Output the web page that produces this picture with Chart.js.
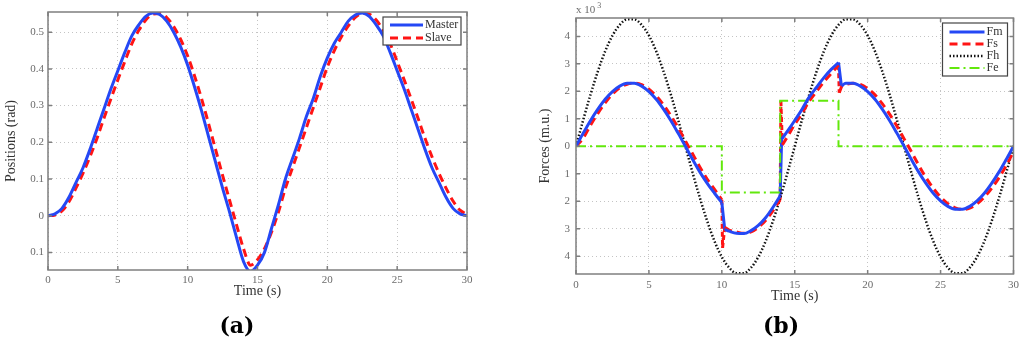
<!DOCTYPE html>
<html>
<head>
<meta charset="utf-8">
<script src="https://cdn.jsdelivr.net/npm/chart.js@4/dist/chart.umd.min.js"></script>
<style>
  body { margin: 0; background: #fff; }
  #page { position: relative; width: 1024px; height: 347px; overflow: hidden; }
  canvas { position: absolute; top: 0; }
  .sub { position: absolute; top: 312px; font: bold 22px "DejaVu Serif", serif; color: #000; width: 60px; text-align: center; }
</style>
</head>
<body>
<div id="page">
  <canvas id="posChart" width="512" height="347" style="left:0"></canvas>
  <canvas id="forceChart" width="512" height="347" style="left:512px"></canvas>
  <div class="sub" style="left:207px">(a)</div>
  <div class="sub" style="left:751px">(b)</div>
</div>
<script>
// sample times (s) for the smooth curves
const timeGrid = [0, 0.5, 1, 1.5, 2, 2.5, 3, 3.5, 4, 4.5, 5, 5.5, 6, 6.5, 7, 7.5, 8, 8.5, 9, 9.5,
  10, 10.5, 11, 11.5, 12, 12.5, 13, 13.5, 14, 14.5, 15, 15.5, 16, 16.5, 17, 17.5, 18, 18.5, 19, 19.5,
  20, 20.5, 21, 21.5, 22, 22.5, 23, 23.5, 24, 24.5, 25, 25.5, 26, 26.5, 27, 27.5, 28, 28.5, 29, 29.5, 30];

// (a) positions, rad
const masterPos = [0, 0.005, 0.02, 0.05, 0.09, 0.13, 0.18, 0.235, 0.29, 0.345, 0.395, 0.445, 0.49, 0.52, 0.543, 0.552,
  0.548, 0.53, 0.5, 0.46, 0.41, 0.35, 0.285, 0.215, 0.145, 0.075, 0.01, -0.06, -0.125, -0.152,
  -0.135, -0.1, -0.035, 0.03, 0.1, 0.155, 0.21, 0.27, 0.32, 0.38, 0.43, 0.47, 0.5, 0.53, 0.547, 0.552,
  0.543, 0.52, 0.49, 0.445, 0.395, 0.345, 0.29, 0.235, 0.18, 0.13, 0.09, 0.05, 0.02, 0.005, 0];
const slavePos = [0, 0.002, 0.013, 0.038, 0.075, 0.115, 0.16, 0.21, 0.265, 0.318, 0.37, 0.42, 0.468, 0.505, 0.533, 0.549,
  0.551, 0.54, 0.515, 0.48, 0.435, 0.38, 0.318, 0.25, 0.18, 0.11, 0.042, -0.025, -0.09, -0.135,
  -0.12, -0.09, -0.045, 0.01, 0.075, 0.13, 0.185, 0.24, 0.295, 0.35, 0.405, 0.45, 0.487, 0.517, 0.54, 0.551,
  0.549, 0.533, 0.505, 0.468, 0.42, 0.37, 0.318, 0.265, 0.21, 0.16, 0.115, 0.075, 0.04, 0.015, 0.003];

// (b) forces, x 10^3 m.u.
const fhForce = [0, 0.97, 1.89, 2.73, 3.46, 4.03, 4.42, 4.62, 4.62, 4.42, 4.03, 3.46, 2.73, 1.89, 0.97, 0,
  -0.97, -1.89, -2.73, -3.46, -4.03, -4.42, -4.62, -4.62, -4.42, -4.03, -3.46, -2.73, -1.89, -0.97, 0,
  0.97, 1.89, 2.73, 3.46, 4.03, 4.42, 4.62, 4.62, 4.42, 4.03, 3.46, 2.73, 1.89, 0.97, 0,
  -0.97, -1.89, -2.73, -3.46, -4.03, -4.42, -4.62, -4.62, -4.42, -4.03, -3.46, -2.73, -1.89, -0.97, 0];

const fmTime = [0, 0.5, 1, 1.5, 2, 2.5, 3, 3.5, 4, 4.5, 5, 5.5, 6, 6.5, 7, 7.5, 8, 8.5, 9, 9.5, 10,
  10.2, 10.5, 11, 11.5, 12, 12.5, 13, 13.5, 14,
  14.1, 14.5, 15, 15.5, 16, 16.5, 17, 17.5, 18,
  18.2, 18.5, 19, 19.5, 20, 20.5, 21, 21.5, 22, 22.5, 23, 23.5, 24, 24.5, 25, 25.5, 26, 26.5, 27, 27.5, 28, 28.5, 29, 29.5, 30];
const fmForce = [0, 0.48, 0.94, 1.35, 1.71, 1.99, 2.19, 2.29, 2.29, 2.19, 1.99, 1.71, 1.35, 0.94, 0.48, 0,
  -0.48, -0.94, -1.35, -1.71, -2.05,
  -3.03, -3.09, -3.17, -3.18, -3.07, -2.88, -2.6, -2.23, -1.8,
  0.25, 0.55, 0.94, 1.35, 1.8, 2.15, 2.5, 2.8, 3.05,
  2.2, 2.29, 2.29, 2.19, 1.99, 1.71, 1.35, 0.94, 0.48, 0, -0.48, -0.94, -1.35, -1.71, -1.99, -2.19, -2.29,
  -2.29, -2.19, -1.99, -1.71, -1.35, -0.94, -0.48, 0];
// times where Fm jumps straight to its next sample
const fmJumps = [10, 14, 18];

const fsTime = [0, 0.5, 1, 1.5, 2, 2.5, 3, 3.5, 4, 4.5, 5, 5.5, 6, 6.5, 7, 7.5, 8, 8.5, 9, 9.5, 10,
  10.05, 10.2, 10.5, 11, 11.5, 12, 12.5, 13, 13.5, 14,
  14.05, 14.15, 14.5, 15, 15.5, 16, 16.5, 17, 17.5, 18,
  18.05, 18.25, 18.5, 19, 19.5, 20, 20.5, 21, 21.5, 22, 22.5, 23, 23.5, 24, 24.5, 25, 25.5, 26, 26.5, 27, 27.5, 28, 28.5, 29, 29.5, 30];
const fsForce = [0, 0.3, 0.77, 1.2, 1.58, 1.9, 2.13, 2.26, 2.3, 2.24, 2.08, 1.83, 1.51, 1.12, 0.68, 0.2,
  -0.28, -0.76, -1.2, -1.57, -1.95,
  -3.7, -2.95, -3.05, -3.12, -3.17, -3.12, -2.95, -2.7, -2.35, -1.95,
  1.65, 0.05, 0.35, 0.8, 1.2, 1.65, 2.0, 2.35, 2.65, 2.95,
  1.95, 2.2, 2.25, 2.29, 2.25, 2.1, 1.87, 1.55, 1.17, 0.74, 0.27, -0.2, -0.69, -1.14, -1.53, -1.85, -2.09,
  -2.24, -2.3, -2.25, -2.1, -1.85, -1.53, -1.15, -0.7, -0.2];
const fsJumps = [10, 10.05, 14, 14.05, 18];

const feTime = [0, 10, 10, 14, 14, 18, 18, 30];
const feForce = [0, 0, -1.68, -1.68, 1.66, 1.66, 0, 0];

const timeTicks = [0, 5, 10, 15, 20, 25, 30];
const posTicks = [-0.1, 0, 0.1, 0.2, 0.3, 0.4, 0.5];
const forceTicks = [-4, -3, -2, -1, 0, 1, 2, 3, 4];

const pts = (xs, ys) => xs.map((t, i) => ({ x: t, y: ys[i] }));

// smooth pieces, broken (null) where the signal jumps
function smoothPart(xs, ys, jumps) {
  const out = [];
  xs.forEach((t, i) => {
    out.push({ x: t, y: ys[i] });
    if (jumps.includes(t) && i + 1 < xs.length) out.push({ x: (t + xs[i + 1]) / 2, y: null });
  });
  return out;
}
// the straight jump segments themselves
function jumpPart(xs, ys, jumps) {
  const out = [];
  xs.forEach((t, i) => {
    if (jumps.includes(t) && i + 1 < xs.length) {
      out.push({ x: t, y: ys[i] }, { x: xs[i + 1], y: ys[i + 1] }, { x: xs[i + 1], y: null });
    }
  });
  return out;
}

const serif = '"Liberation Serif", "Times New Roman", serif';
const tickFont = { family: serif, size: 11 };
const tickColor = '#6b6b6b';
const gridColor = '#c4c4c4';
const blue = '#2548f5';
const red = '#ff1414';

// grey box around the axes with small inward tick marks (matlab "box on")
const boxFrame = {
  id: 'boxFrame',
  afterDatasetsDraw(chart) {
    const { ctx, chartArea: a, scales: { x, y } } = chart;
    ctx.save();
    ctx.strokeStyle = '#7f7f7f';
    ctx.lineWidth = 1.5;
    ctx.strokeRect(a.left, a.top, a.width, a.height);
    ctx.beginPath();
    x.ticks.forEach(t => {
      const px = x.getPixelForValue(t.value);
      ctx.moveTo(px, a.bottom); ctx.lineTo(px, a.bottom - 4);
      ctx.moveTo(px, a.top); ctx.lineTo(px, a.top + 4);
    });
    y.ticks.forEach(t => {
      const py = y.getPixelForValue(t.value);
      ctx.moveTo(a.left, py); ctx.lineTo(a.left + 4, py);
      ctx.moveTo(a.right, py); ctx.lineTo(a.right - 4, py);
    });
    ctx.stroke();
    ctx.restore();
  }
};

// legend box with line samples, top right inside the axes
const lineLegend = {
  id: 'lineLegend',
  afterDraw(chart, args, o) {
    const { ctx, chartArea: a } = chart;
    const left = a.right - o.inset - o.width;
    const top = a.top + o.top;
    ctx.save();
    ctx.fillStyle = '#fff';
    ctx.fillRect(left, top, o.width, o.height);
    ctx.strokeStyle = '#444';
    ctx.lineWidth = 1.2;
    ctx.strokeRect(left, top, o.width, o.height);
    ctx.font = '12px ' + serif;
    ctx.textBaseline = 'middle';
    chart.data.datasets.filter(ds => ds.label).forEach((ds, i) => {
      const yy = top + o.firstRow + i * o.rowGap;
      ctx.save();
      ctx.strokeStyle = ds.borderColor;
      ctx.lineWidth = ds.borderWidth;
      ctx.setLineDash(ds.borderDash || []);
      ctx.beginPath();
      ctx.moveTo(left + o.sampleStart, yy);
      ctx.lineTo(left + o.sampleEnd, yy);
      ctx.stroke();
      ctx.restore();
      ctx.fillStyle = '#333';
      ctx.fillText(ds.label, left + o.sampleEnd + 2, yy);
    });
    ctx.restore();
  }
};

// "x 10^3" multiplier above the force axis
const expLabel = {
  id: 'expLabel',
  afterDraw(chart, args, o) {
    if (!o.text) return;
    const { ctx, chartArea: a } = chart;
    ctx.save();
    ctx.fillStyle = tickColor;
    ctx.textBaseline = 'alphabetic';
    ctx.font = '11px ' + serif;
    ctx.fillText(o.text, a.left, a.top - 5);
    const w = ctx.measureText(o.text).width;
    ctx.font = '8px ' + serif;
    ctx.fillText(o.power, a.left + w + 2, a.top - 10);
    ctx.restore();
  }
};

function axisX(labelPad, titleBottom, height) {
  return {
    type: 'linear', min: 0, max: 30,
    afterBuildTicks: s => { s.ticks = timeTicks.map(v => ({ value: v })); },
    afterFit: s => { s.height = height; },
    ticks: { font: tickFont, color: tickColor, padding: labelPad, maxRotation: 0 },
    grid: { color: gridColor, drawTicks: false },
    border: { display: false, dash: [1, 3] },
    title: { display: true, text: 'Time (s)', font: { family: serif, size: 14 }, color: '#333', padding: { top: 0, bottom: titleBottom } }
  };
}

Chart.register(boxFrame, lineLegend, expLabel);

new Chart(document.getElementById('posChart'), {
  type: 'line',
  data: {
    datasets: [
      { label: 'Master', data: pts(timeGrid, masterPos), borderColor: blue, borderWidth: 3, pointRadius: 0, cubicInterpolationMode: 'monotone' },
      { label: 'Slave', data: pts(timeGrid, slavePos), borderColor: red, borderWidth: 3, borderDash: [8, 5], pointRadius: 0, cubicInterpolationMode: 'monotone' }
    ]
  },
  options: {
    responsive: false,
    animation: false,
    layout: { padding: { left: 0, top: 12, right: 45, bottom: 47 } },
    scales: {
      x: axisX(4, 0, 30),
      y: {
        type: 'linear', min: -0.148, max: 0.555,
        afterBuildTicks: s => { s.ticks = posTicks.map(v => ({ value: v })); },
        afterFit: s => { s.width = 48; },
        ticks: { font: tickFont, color: tickColor, padding: 4, callback: v => v === 0 ? '0' : Math.abs(v).toFixed(1) },
        grid: { color: gridColor, drawTicks: false },
        border: { display: false, dash: [1, 3] },
        title: { display: true, text: 'Positions (rad)', font: { family: serif, size: 14 }, color: '#333', padding: { top: 3, bottom: 0 } }
      }
    },
    plugins: {
      legend: { display: false },
      tooltip: { enabled: false },
      lineLegend: { inset: 6, top: 5, width: 78, height: 28, firstRow: 8, rowGap: 13, sampleStart: 7, sampleEnd: 40 },
      expLabel: {}
    }
  }
});

new Chart(document.getElementById('forceChart'), {
  type: 'line',
  data: {
    datasets: [
      { label: 'Fm', data: smoothPart(fmTime, fmForce, fmJumps), borderColor: blue, borderWidth: 3, pointRadius: 0, cubicInterpolationMode: 'monotone', spanGaps: false },
      { label: 'Fs', data: smoothPart(fsTime, fsForce, fsJumps), borderColor: red, borderWidth: 3, borderDash: [8, 5], pointRadius: 0, cubicInterpolationMode: 'monotone', spanGaps: false },
      { label: 'Fh', data: pts(timeGrid, fhForce), borderColor: '#111', borderWidth: 2.5, borderDash: [1.5, 2], pointRadius: 0, cubicInterpolationMode: 'monotone' },
      { label: 'Fe', data: pts(feTime, feForce), borderColor: '#62e80c', borderWidth: 2, borderDash: [10, 4, 2, 4], pointRadius: 0, tension: 0 },
      { label: '', data: jumpPart(fmTime, fmForce, fmJumps), borderColor: blue, borderWidth: 3, pointRadius: 0, tension: 0, spanGaps: false },
      { label: '', data: jumpPart(fsTime, fsForce, fsJumps), borderColor: red, borderWidth: 3, borderDash: [5, 3], pointRadius: 0, tension: 0, spanGaps: false }
    ]
  },
  options: {
    responsive: false,
    animation: false,
    layout: { padding: { left: 20, top: 18, right: 7, bottom: 42 } },
    scales: {
      x: axisX(5, 0, 31),
      y: {
        type: 'linear', min: -4.65, max: 4.67,
        afterBuildTicks: s => { s.ticks = forceTicks.map(v => ({ value: v })); },
        afterFit: s => { s.width = 44; },
        ticks: { font: tickFont, color: tickColor, padding: 6, callback: v => String(Math.abs(v)) },
        grid: { color: gridColor, drawTicks: false },
        border: { display: false, dash: [1, 3] },
        title: { display: true, text: 'Forces (m.u.)', font: { family: serif, size: 14 }, color: '#333', padding: { top: 5, bottom: 0 } }
      }
    },
    plugins: {
      legend: { display: false },
      tooltip: { enabled: false },
      lineLegend: { inset: 6, top: 5, width: 65, height: 53, firstRow: 9, rowGap: 12, sampleStart: 7, sampleEnd: 42 },
      expLabel: { text: 'x 10', power: '3' }
    }
  }
});
</script>
</body>
</html>
